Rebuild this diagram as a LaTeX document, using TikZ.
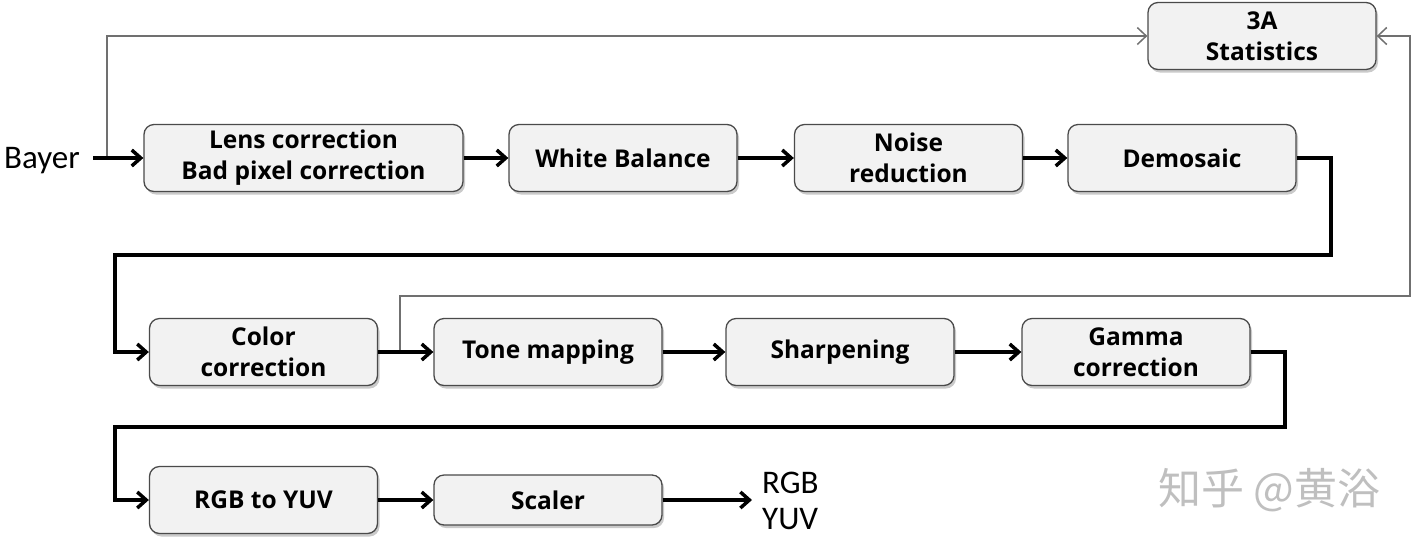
\documentclass[tikz,border=0pt]{standalone}
\usepackage{fontspec}
\setmainfont{Open Sans}
\newfontfamily\calib{Carlito}
\newfontfamily\cjk{Noto Sans CJK SC}
\usetikzlibrary{arrows.meta,shadows}
\definecolor{boxfill}{HTML}{F2F2F2}
\definecolor{boxdraw}{HTML}{4A4A4A}
\definecolor{thinline}{HTML}{707070}
\tikzset{
  stage/.style={draw=boxdraw, line width=1.3pt, fill=boxfill, rounded corners=10pt,
    minimum width=228pt, minimum height=67pt, align=center,
    font=\fontsize{24.5}{31}\selectfont\bfseries, inner sep=0pt,
    drop shadow={shadow xshift=2pt, shadow yshift=-3pt, opacity=0.35, fill=black!60}},
  flow/.style={line width=3.5pt, line join=miter,
    -{Straight Barb[length=9pt,width=16pt,line width=3.5pt]}},
  stat/.style={draw=thinline, line width=1.5pt,
    -{Straight Barb[length=9pt,width=17pt,line width=1.5pt]}},
  plain/.style={font=\calib\fontsize{33}{36}\selectfont, inner sep=0pt},
}
\begin{document}
\begin{tikzpicture}[x=1pt,y=-1pt]
\useasboundingbox (0,0) rectangle (1418,550);
% nodes
\node[plain, anchor=west] (bayer) at (4,161) {Bayer};
\node[stage, minimum width=319pt] (lens) at (303.5,158) {Lens correction\\Bad pixel correction};
\node[stage] (wb) at (623,158) {White Balance};
\node[stage] (nr) at (908.5,158) {Noise\\reduction};
\node[stage] (dem) at (1182,158) {Demosaic};
\node[stage] (stats) at (1262,36) {3A\\Statistics};
\node[stage] (cc) at (263.5,352) {Color\\correction};
\node[stage] (tm) at (548,352) {Tone mapping};
\node[stage] (sh) at (840,352) {Sharpening};
\node[stage] (gc) at (1136,352) {Gamma\\correction};
\node[stage] (yuv) at (263.5,500) {RGB to YUV};
\node[stage, minimum height=50pt] (sc) at (548,500) {Scaler};
\node[plain, anchor=west, align=left] (out) at (762,501) {RGB\\YUV};
\node[text=black!25, font=\cjk\fontsize{43}{46}\selectfont, anchor=west, inner sep=0pt] (wm) at (1158,490) {知乎 @黄浴};
% coordinates
\coordinate (j1) at (107,158);
\coordinate (j2) at (400,352);
\coordinate (c3) at (1410,296);
\coordinate (r1) at (1331,255);
\coordinate (l1) at (115,255);
\coordinate (r2) at (1285,427);
\coordinate (l2) at (115,427);
% thin statistic lines
\draw[stat] (j1) |- (stats.west);
\draw[stat] (j2) |- (c3) |- (stats.east);
% main flow
\draw[flow] ([xshift=13pt]bayer.east |- lens.west) -- (lens.west);
\draw[flow] (lens) -- (wb);
\draw[flow] (wb) -- (nr);
\draw[flow] (nr) -- (dem);
\draw[flow] (dem.east) -| (r1) -- (l1) |- (cc.west);
\draw[flow] (cc) -- (tm);
\draw[flow] (tm) -- (sh);
\draw[flow] (sh) -- (gc);
\draw[flow] (gc.east) -| (r2) -- (l2) |- (yuv.west);
\draw[flow] (yuv) -- (sc);
\draw[flow] (sc.east) -- ([xshift=-10pt]out.west |- sc.east);
\end{tikzpicture}
\end{document}
